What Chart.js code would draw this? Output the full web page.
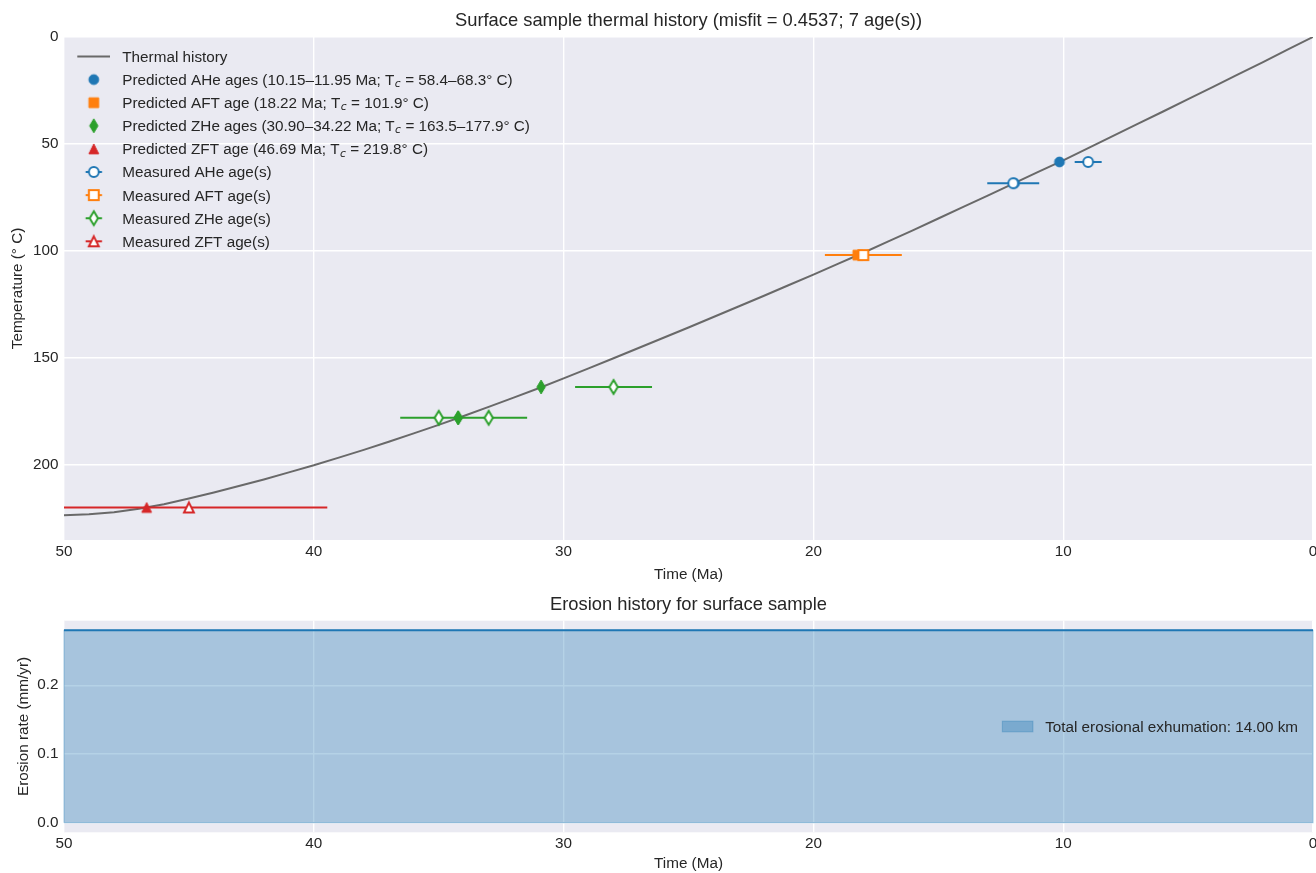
<!DOCTYPE html>
<html>
<head>
<meta charset="utf-8">
<title>Surface sample thermal and erosion history</title>
<script src="https://cdn.jsdelivr.net/npm/chart.js@4.4.1/dist/chart.umd.min.js"></script>
<style>
  html, body { margin: 0; padding: 0; background: #ffffff; }
  #wrap { position: relative; width: 1316px; height: 873px; overflow: hidden; }
  canvas { position: absolute; left: 0; }
  #thermal { top: 0; }
  #erosion { top: 588px; }
</style>
</head>
<body>
<div id="wrap">
  <canvas id="thermal" width="1316" height="588"></canvas>
  <canvas id="erosion" width="1316" height="286"></canvas>
</div>
<script>
// ---------------------------------------------------------------------------
// Data
// ---------------------------------------------------------------------------

// Modelled thermal history of the surface sample (time in Ma, temperature in °C)
const historyTime = [50, 49, 48, 47, 46, 45, 44, 43, 42, 41, 40, 39, 38, 37, 36, 35, 34, 33, 32, 31,
                     30, 29, 28, 27, 26, 25, 24, 23, 22, 21, 20, 19, 18, 17, 16, 15, 14, 13, 12, 11,
                     10, 9, 8, 7, 6, 5, 4, 3, 2, 1, 0];
const historyTemp = [223.45, 223.0, 222.0, 220.4, 218.3, 215.6, 212.8, 209.8, 206.7, 203.4,
                     200.1, 196.5, 192.9, 189.1, 185.2, 181.2, 177.1, 172.8, 168.5, 164.1,
                     159.5, 154.8, 150.1, 145.3, 140.5, 135.7, 130.8, 125.9, 121.0, 116.0,
                     111.0, 105.9, 100.8, 95.5, 90.2, 84.8, 79.4, 74.0, 68.5, 63.0,
                     57.6, 51.9, 46.2, 40.5, 34.8, 29.0, 23.3, 17.5, 11.7, 5.8, 0.0];

// Predicted ages (Ma) and their closure temperatures (°C)
const aheAge = [11.95, 10.15];
const aheTc  = [68.3, 58.4];
const aftAge = [18.22];
const aftTc  = [101.9];
const zheAge = [34.22, 34.22, 30.90];
const zheTc  = [177.9, 177.9, 163.5];
const zftAge = [46.69];
const zftTc  = [219.8];

// Measured ages (Ma) with uncertainties, paired with the predictions above
const aheMeas = [12.0, 9.0];
const aheErr  = [1.0, 0.5];
const aftMeas = [18.0];
const aftErr  = [1.5];
const zheMeas = [35.0, 33.0, 28.0];
const zheErr  = [1.5, 1.5, 1.5];
const zftMeas = [45.0];
const zftErr  = [5.5];

const misfit = 0.4537;

// Erosion history (time in Ma, rate in mm/yr)
const erosionTime = [50, 0];
const erosionRate = [0.28, 0.28];
const exhumationKm = 14.00;

// Tick labels
const timeTicks = [50, 40, 30, 20, 10, 0];
const tempTicks = [0, 50, 100, 150, 200];
const rateTicks = [0.0, 0.1, 0.2];

// ---------------------------------------------------------------------------
// Styling
// ---------------------------------------------------------------------------
const FONT = "'Liberation Sans', Arial, Helvetica, sans-serif";
const INK = '#262626';
const PLOT_BG = '#eaeaf2';
const BLUE = '#1f77b4', ORANGE = '#ff7f0e', GREEN = '#2ca02c', RED = '#d62728', GREY = '#696969';
const FILL = 'rgba(31, 119, 180, 0.33)';
const LABEL_SIZE = 15.28;
const TITLE_SIZE = 18.33;

Chart.defaults.font.family = FONT;
Chart.defaults.color = INK;

// Marker glyphs rendered once and handed to Chart.js as point styles
function marker(shape, fill, stroke, lw, size, stub) {
  const c = document.createElement('canvas');
  const S = 24, m = S / 2, r = size / 2;
  c.width = S; c.height = S;
  const g = c.getContext('2d');
  if (stub) {
    g.strokeStyle = stroke; g.lineWidth = 2;
    g.beginPath(); g.moveTo(m - stub, m); g.lineTo(m + stub, m); g.stroke();
  }
  g.beginPath();
  if (shape === 'circle') {
    g.arc(m, m, r, 0, Math.PI * 2);
  } else if (shape === 'square') {
    g.rect(m - r, m - r, 2 * r, 2 * r);
  } else if (shape === 'thinDiamond') {
    const h = r * Math.SQRT2, w = 0.6 * h;
    g.moveTo(m, m - h); g.lineTo(m + w, m); g.lineTo(m, m + h); g.lineTo(m - w, m); g.closePath();
  } else if (shape === 'triangle') {
    g.moveTo(m, m - r); g.lineTo(m + r, m + r); g.lineTo(m - r, m + r); g.closePath();
  }
  g.fillStyle = fill; g.fill();
  if (lw) { g.lineWidth = lw; g.strokeStyle = stroke; g.lineJoin = 'miter'; g.stroke(); }
  return c;
}

const MS = 9.8;
const glyph = {
  aheP: marker('circle', BLUE, BLUE, 1, MS),
  aftP: marker('square', ORANGE, ORANGE, 1, MS),
  zheP: marker('thinDiamond', GREEN, GREEN, 1, MS),
  zftP: marker('triangle', RED, RED, 1, MS),
  aheM: marker('circle', '#ffffff', BLUE, 2, MS),
  aftM: marker('square', '#ffffff', ORANGE, 2, MS),
  zheM: marker('thinDiamond', '#ffffff', GREEN, 2, MS),
  zftM: marker('triangle', '#ffffff', RED, 2, MS)
};
const legendGlyph = {
  aheM: marker('circle', '#ffffff', BLUE, 2, MS, 8.2),
  aftM: marker('square', '#ffffff', ORANGE, 2, MS, 8.2),
  zheM: marker('thinDiamond', '#ffffff', GREEN, 2, MS, 8.2),
  zftM: marker('triangle', '#ffffff', RED, 2, MS, 8.2)
};

// ---------------------------------------------------------------------------
// Helpers
// ---------------------------------------------------------------------------
const pts = (xs, ys) => xs.map((x, i) => ({ x, y: ys[i] }));
const barPts = (ages, errs, ys) => ages.flatMap((a, i) => [
  { x: a + errs[i], y: ys[i] }, { x: a - errs[i], y: ys[i] }, { x: a, y: null }
]);
const span = (vals, d) => {
  const lo = Math.min(...vals), hi = Math.max(...vals);
  return lo === hi ? lo.toFixed(d) : `${lo.toFixed(d)}\u2013${hi.toFixed(d)}`;
};
function predictedLabel(name, ages, tcs) {
  const word = ages.length > 1 ? 'ages' : 'age';
  return [
    { text: `Predicted ${name} ${word} (${span(ages, 2)} Ma; T` },
    { text: 'c', sub: true },
    { text: ` = ${span(tcs, 1)}\u00b0 C)` }
  ];
}

function scatterSet(label, xs, ys, style, order) {
  return { type: 'scatter', label, data: pts(xs, ys), pointStyle: style,
           pointRadius: 6, pointHoverRadius: 6, order };
}
function errorBars(label, ages, errs, ys, color) {
  return { type: 'line', label, data: barPts(ages, errs, ys), borderColor: color, borderWidth: 2,
           borderCapStyle: 'square', pointRadius: 0, pointHoverRadius: 0, showLine: true,
           spanGaps: false, fill: false, order: 2 };
}

const gridOpts = { color: '#ffffff', lineWidth: 1.4, drawTicks: false };
const tickFont = { family: FONT, size: LABEL_SIZE };

function timeAxis(height, titleBottom) {
  return {
    type: 'linear', min: 0, max: 50, reverse: true,
    grid: gridOpts, border: { display: false },
    ticks: { padding: 2.8, color: INK, font: tickFont, maxRotation: 0, autoSkip: false },
    title: { display: true, text: 'Time (Ma)', color: INK, font: tickFont,
             padding: { top: 0, bottom: titleBottom } },
    afterBuildTicks: s => { s.ticks = timeTicks.map(v => ({ value: v })); },
    afterFit: s => { s.height = height; s.paddingLeft = 0; s.paddingRight = 0; }
  };
}
function valueAxis(cfg) {
  return {
    type: 'linear', min: cfg.min, max: cfg.max, reverse: !!cfg.reverse,
    grid: gridOpts, border: { display: false },
    ticks: { padding: 5.5, color: INK, font: tickFont, callback: cfg.format },
    title: { display: true, text: cfg.title, color: INK, font: tickFont,
             padding: { top: cfg.titleLeft, bottom: 0 } },
    afterBuildTicks: s => { s.ticks = cfg.ticks.map(v => ({ value: v })); },
    afterFit: s => { s.width = 64; }
  };
}

const plotBackground = {
  id: 'plotBackground',
  beforeDraw(chart) {
    const { ctx, chartArea: a } = chart;
    ctx.save();
    ctx.fillStyle = PLOT_BG;
    ctx.fillRect(a.left, a.top, a.right - a.left, a.bottom - a.top);
    ctx.restore();
  }
};

function drawRich(ctx, parts, x, y) {
  const base = y + 5.5;
  ctx.textAlign = 'left';
  ctx.textBaseline = 'alphabetic';
  ctx.fillStyle = INK;
  for (const p of parts) {
    if (p.sub) {
      ctx.font = "italic 10.7px 'DejaVu Sans', sans-serif";
      ctx.fillText(p.text, x + 0.4, base + 2.2);
      x += ctx.measureText(p.text).width + 0.6;
    } else {
      ctx.font = `${LABEL_SIZE}px ${FONT}`;
      ctx.fillText(p.text, x, base);
      x += ctx.measureText(p.text).width;
    }
  }
}

// ---------------------------------------------------------------------------
// Thermal history panel
// ---------------------------------------------------------------------------
const thermalLegendRows = [
  { line: GREY, parts: [{ text: 'Thermal history' }] },
  { icon: glyph.aheP, parts: predictedLabel('AHe', aheAge, aheTc) },
  { icon: glyph.aftP, parts: predictedLabel('AFT', aftAge, aftTc) },
  { icon: glyph.zheP, parts: predictedLabel('ZHe', zheAge, zheTc) },
  { icon: glyph.zftP, parts: predictedLabel('ZFT', zftAge, zftTc) },
  { icon: legendGlyph.aheM, parts: [{ text: 'Measured AHe age(s)' }] },
  { icon: legendGlyph.aftM, parts: [{ text: 'Measured AFT age(s)' }] },
  { icon: legendGlyph.zheM, parts: [{ text: 'Measured ZHe age(s)' }] },
  { icon: legendGlyph.zftM, parts: [{ text: 'Measured ZFT age(s)' }] }
];

const thermalLegend = {
  id: 'thermalLegend',
  afterDraw(chart) {
    const { ctx, chartArea: a } = chart;
    ctx.save();
    thermalLegendRows.forEach((row, i) => {
      const y = a.top + 19.5 + 23.1 * i;
      const cx = a.left + 29.8;
      if (row.line) {
        ctx.strokeStyle = row.line; ctx.lineWidth = 2; ctx.lineCap = 'butt';
        ctx.beginPath(); ctx.moveTo(a.left + 13.3, y); ctx.lineTo(a.left + 46, y); ctx.stroke();
      }
      if (row.icon) ctx.drawImage(row.icon, cx - row.icon.width / 2, y - row.icon.height / 2);
      drawRich(ctx, row.parts, a.left + 58.3, y);
    });
    ctx.restore();
  }
};

const measuredCount = aheMeas.length + aftMeas.length + zheMeas.length + zftMeas.length;

new Chart(document.getElementById('thermal'), {
  type: 'scatter',
  data: {
    datasets: [
      { type: 'line', label: 'Thermal history', data: pts(historyTime, historyTemp),
        borderColor: GREY, borderWidth: 2, pointRadius: 0, pointHoverRadius: 0,
        tension: 0, fill: false, order: 4 },
      scatterSet('Predicted AHe', aheAge, aheTc, glyph.aheP, 3),
      scatterSet('Predicted AFT', aftAge, aftTc, glyph.aftP, 3),
      scatterSet('Predicted ZHe', zheAge, zheTc, glyph.zheP, 3),
      scatterSet('Predicted ZFT', zftAge, zftTc, glyph.zftP, 3),
      errorBars('AHe error', aheMeas, aheErr, aheTc, BLUE),
      errorBars('AFT error', aftMeas, aftErr, aftTc, ORANGE),
      errorBars('ZHe error', zheMeas, zheErr, zheTc, GREEN),
      errorBars('ZFT error', zftMeas, zftErr, zftTc, RED),
      scatterSet('Measured AHe', aheMeas, aheTc, glyph.aheM, 1),
      scatterSet('Measured AFT', aftMeas, aftTc, glyph.aftM, 1),
      scatterSet('Measured ZHe', zheMeas, zheTc, glyph.zheM, 1),
      scatterSet('Measured ZFT', zftMeas, zftTc, glyph.zftM, 1)
    ]
  },
  options: {
    responsive: false, animation: false, devicePixelRatio: 1,
    layout: { autoPadding: false, padding: { left: 0, right: 3, top: 0, bottom: 0 } },
    plugins: {
      legend: { display: false },
      tooltip: { enabled: false },
      title: {
        display: true, fullSize: false, color: INK,
        text: `Surface sample thermal history (misfit = ${misfit.toFixed(4)}; ${measuredCount} age(s))`,
        font: { family: FONT, size: TITLE_SIZE, weight: 'normal' },
        padding: { top: 9.5, bottom: 5.5 }
      }
    },
    scales: {
      x: timeAxis(48, 4.3),
      y: valueAxis({ min: 0, max: 235, reverse: true, ticks: tempTicks,
                     title: 'Temperature (\u00b0 C)', titleLeft: 8.8,
                     format: v => String(v) })
    }
  },
  plugins: [plotBackground, thermalLegend]
});

// ---------------------------------------------------------------------------
// Erosion history panel
// ---------------------------------------------------------------------------
const erosionLegend = {
  id: 'erosionLegend',
  afterDraw(chart) {
    const { ctx, chartArea: a } = chart;
    const label = `Total erosional exhumation: ${exhumationKm.toFixed(2)} km`;
    const yc = (a.top + a.bottom) / 2;
    ctx.save();
    ctx.font = `${LABEL_SIZE}px ${FONT}`;
    const w = ctx.measureText(label).width;
    const tx = a.right - 15 - w;
    const px = tx - 12.2 - 30.6;
    ctx.fillStyle = FILL;
    ctx.fillRect(px, yc - 5.35, 30.6, 10.7);
    ctx.strokeStyle = FILL; ctx.lineWidth = 1;
    ctx.strokeRect(px, yc - 5.35, 30.6, 10.7);
    ctx.fillStyle = INK; ctx.textAlign = 'left'; ctx.textBaseline = 'alphabetic';
    ctx.fillText(label, tx, yc + 5.5);
    ctx.restore();
  }
};

// outline of the filled exhumation band
const bandOutline = [
  { x: erosionTime[0], y: 0 },
  ...pts(erosionTime, erosionRate),
  { x: erosionTime[erosionTime.length - 1], y: 0 },
  { x: erosionTime[0], y: 0 }
];

new Chart(document.getElementById('erosion'), {
  type: 'scatter',
  data: {
    datasets: [
      { type: 'line', label: 'Band edge', data: bandOutline, borderColor: FILL, borderWidth: 1.2,
        pointRadius: 0, pointHoverRadius: 0, showLine: true, fill: false, clip: 1, order: 3 },
      { type: 'line', label: 'Erosion rate', data: pts(erosionTime, erosionRate),
        borderColor: BLUE, borderWidth: 2, backgroundColor: FILL, fill: 'origin',
        pointRadius: 0, pointHoverRadius: 0, showLine: true, order: 1 }
    ]
  },
  options: {
    responsive: false, animation: false, devicePixelRatio: 1,
    layout: { autoPadding: false, padding: { left: 0, right: 3, top: 0, bottom: 0 } },
    plugins: {
      legend: { display: false },
      tooltip: { enabled: false },
      title: {
        display: true, fullSize: false, color: INK,
        text: 'Erosion history for surface sample',
        font: { family: FONT, size: TITLE_SIZE, weight: 'normal' },
        padding: { top: 6, bottom: 4.7 }
      }
    },
    scales: {
      x: timeAxis(41.7, 0.8),
      y: valueAxis({ min: -0.014, max: 0.294, ticks: rateTicks,
                     title: 'Erosion rate (mm/yr)', titleLeft: 15,
                     format: v => Number(v).toFixed(1) })
    }
  },
  plugins: [plotBackground, erosionLegend]
});
</script>
</body>
</html>
